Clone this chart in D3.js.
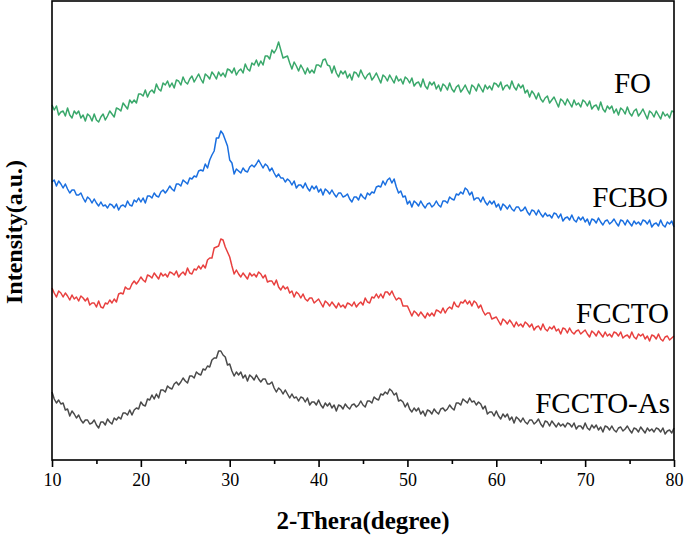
<!DOCTYPE html>
<html>
<head>
<meta charset="utf-8">
<script src="https://cdn.jsdelivr.net/npm/d3@7"></script>
<style>
  body { margin: 0; background: #fff; }
  svg { display: block; }
  .tick text { font-family: "Liberation Serif", "Times New Roman", serif; font-size: 18px; fill: #000; }
  .label { font-family: "Liberation Serif", "Times New Roman", serif; fill: #000; }
  .series { fill: none; stroke-width: 1.5; stroke-linejoin: round; }
</style>
</head>
<body>
<svg id="chart" width="685" height="537"></svg>
<script>
/* XRD patterns, stacked with offsets */

// 2-theta from 10 to 80 in steps of 0.25 degree (281 points)
const angleStart = 10, angleStep = 0.25;

const names = ["FO", "FCBO", "FCCTO", "FCCTO-As"];
const colors = ["#3aa86b", "#1a6fe0", "#e8403f", "#4a4a4a"];

const foValues = [
  354,349,353,344,347,348,343,351,344,341,348,345,348,341,344,338,345,343,338,345,
  339,337,342,345,339,343,348,345,342,351,350,348,356,353,350,359,356,359,356,365,
  365,363,369,362,367,369,366,375,370,368,376,374,378,372,376,371,379,378,374,382,
  377,375,380,383,377,381,385,380,376,385,383,380,387,384,380,387,383,386,382,390,
  389,386,391,384,388,390,386,395,390,388,396,394,399,393,398,394,403,403,400,409,
  406,410,417,409,401,402,403,396,390,397,393,388,394,390,385,391,386,389,386,394,
  394,392,399,400,394,393,386,393,386,382,388,385,388,381,385,379,387,386,382,389,
  384,380,384,386,379,382,386,381,376,384,382,378,384,380,376,383,378,380,375,382,
  380,376,381,373,376,377,372,380,373,370,377,374,377,370,374,368,375,373,369,376,
  370,367,372,374,367,370,374,369,365,374,372,368,375,371,367,374,370,373,369,376,
  375,372,377,369,373,374,370,378,372,369,375,371,374,366,369,362,368,365,360,366,
  360,357,361,363,356,359,362,357,352,360,358,354,360,356,352,359,354,356,352,359,
  357,353,358,350,353,354,349,357,350,347,353,350,353,346,350,344,351,349,345,352,
  346,343,348,350,343,346,350,345,340,348,346,342,348,344,340,347,343,345,341,348,
  347
];

const fcboValues = [
  277,279,273,278,275,271,275,270,266,269,269,264,264,266,261,257,262,260,256,260,
  256,253,257,253,254,251,255,254,251,255,249,253,254,252,258,254,253,259,257,261,
  257,261,256,263,263,261,266,263,262,267,269,266,269,273,270,268,275,275,273,279,
  277,275,281,280,283,282,288,289,288,295,291,299,304,308,321,321,328,325,319,313,
  299,296,285,290,288,286,291,288,287,292,294,292,295,299,295,291,295,293,288,291,
  286,282,285,281,281,277,280,278,274,278,271,274,274,271,276,271,268,273,270,273,
  267,270,264,270,268,265,269,265,262,266,266,262,263,265,260,257,262,262,259,265,
  262,260,266,264,267,266,272,273,272,278,274,279,281,276,280,272,266,268,262,263,
  255,258,252,258,256,253,258,254,251,255,256,252,254,258,254,252,258,258,256,262,
  260,259,265,264,267,265,271,269,264,267,259,261,261,257,262,257,254,258,255,258,
  252,255,249,255,253,250,254,250,248,252,252,248,249,252,247,244,249,248,244,249,
  245,242,246,243,244,241,246,245,241,245,238,241,242,239,244,239,237,242,239,242,
  237,240,234,240,239,236,241,237,234,238,239,235,237,240,236,233,239,238,234,239,
  236,233,238,235,237,234,239,238,235,239,232,235,236,233,239,234,232,237,235,238,
  232
];

const fcctoValues = [
  171,166,162,168,166,162,166,163,159,164,160,162,158,163,161,158,161,154,156,156,
  152,158,152,151,156,155,159,156,160,157,165,166,165,172,170,170,175,178,175,178,
  182,179,177,184,183,181,186,183,180,186,183,185,182,187,186,184,188,182,185,187,
  184,191,186,185,190,189,193,190,194,191,199,201,201,211,212,213,220,219,212,207,
  202,193,185,189,185,182,186,183,180,186,183,185,182,187,185,181,184,177,178,178,
  174,179,172,169,173,170,172,166,168,162,167,165,161,165,160,158,161,161,156,158,
  160,156,152,158,156,153,157,154,151,156,152,154,151,156,155,153,157,152,155,157,
  154,161,157,156,162,161,165,161,165,161,167,167,164,168,163,159,161,160,153,153,
  153,148,143,148,146,143,147,144,141,146,143,146,143,149,148,146,151,146,150,152,
  150,157,153,152,157,156,159,155,158,153,158,156,151,154,148,144,146,146,140,141,
  142,138,134,140,138,135,139,136,132,137,133,135,132,137,135,132,135,129,132,133,
  129,135,130,128,132,130,133,128,130,125,131,130,126,131,127,125,128,129,125,127,
  129,125,122,128,126,123,128,125,122,127,123,125,122,127,126,123,127,121,123,124,
  121,127,122,120,125,123,125,120,123,118,124,123,120,125,120,118,122,123,119,121,
  123
];

const fcctoAsValues = [
  67,60,56,59,55,56,49,50,43,48,45,41,44,39,36,39,39,35,36,39,
  34,31,37,37,34,40,37,35,41,39,42,40,46,46,44,49,44,49,51,50,
  57,54,53,60,59,64,60,65,61,69,69,67,73,71,70,75,77,74,77,81,
  78,76,83,83,81,87,85,84,90,89,93,92,99,101,101,108,108,104,102,94,
  95,88,83,87,84,87,81,84,78,84,82,79,84,80,77,80,80,75,75,77,
  71,67,71,69,65,69,65,61,65,61,62,58,62,61,57,61,54,57,57,54,
  59,54,51,56,53,56,51,54,48,54,53,50,55,52,50,54,55,52,54,58,
  54,52,58,58,56,62,60,59,65,64,67,65,70,68,64,66,58,59,57,52,
  56,50,47,51,48,51,45,48,43,49,48,45,50,47,45,50,51,48,50,54,
  51,49,56,56,54,60,58,56,61,57,58,54,57,55,50,53,45,47,47,43,
  48,43,40,45,42,45,39,42,36,42,40,37,41,37,35,39,39,35,37,40,
  35,32,38,37,33,38,35,32,36,33,35,32,36,35,32,36,30,33,33,30,
  36,31,29,34,31,34,29,32,27,33,32,29,33,29,27,31,32,28,30,33,
  29,26,31,30,27,32,29,26,31,28,30,27,31,30,27,31,25,28,29,26,
  31
];

const seriesValues = [foValues, fcboValues, fcctoValues, fcctoAsValues];

const majorTicks = [10, 20, 30, 40, 50, 60, 70, 80];
const minorTicks = [15, 25, 35, 45, 55, 65, 75];

const svg = d3.select("#chart");
const box = {left: 52, right: 674, top: 1, bottom: 460};

const x = d3.scaleLinear().domain([10, 80]).range([box.left, box.right]);
const y = d3.scaleLinear().domain([0, 459]).range([459, 0]);

const line = d3.line()
    .x((d, i) => x(angleStart + i * angleStep))
    .y(d => y(d));

svg.selectAll("path.series")
    .data(seriesValues).enter()
    .append("path").attr("class", "series")
    .attr("stroke", (d, i) => colors[i])
    .attr("d", line);

// frame
svg.append("rect")
    .attr("x", box.left).attr("y", box.top)
    .attr("width", box.right - box.left).attr("height", box.bottom - box.top)
    .attr("fill", "none").attr("stroke", "#000").attr("stroke-width", 1.6);

// bottom axis: major ticks with labels, minor without
const gx = svg.append("g").attr("transform", `translate(0,${box.bottom})`)
    .call(d3.axisBottom(x).tickValues(majorTicks).tickSize(7).tickPadding(6).tickFormat(d3.format("d")));
gx.select(".domain").remove();
gx.selectAll(".tick line").attr("stroke-width", 1.6);

const gm = svg.append("g").attr("transform", `translate(0,${box.bottom})`)
    .call(d3.axisBottom(x).tickValues(minorTicks).tickSize(4).tickFormat(""));
gm.select(".domain").remove();
gm.selectAll(".tick line").attr("stroke-width", 1.6);

// axis titles
svg.append("text").attr("class", "label")
    .attr("x", (box.left + box.right) / 2).attr("y", 529)
    .attr("text-anchor", "middle")
    .style("font-size", "25px").style("font-weight", "bold")
    .text("2-Thera(degree)");

svg.append("text").attr("class", "label")
    .attr("transform", "translate(22,232) rotate(-90)")
    .attr("text-anchor", "middle")
    .style("font-size", "24px").style("font-weight", "bold")
    .text("Intensity(a.u.)");

// series names at the right
const labelRight = [651, 668, 669, 670];
const labelBase = [93, 207, 323, 413];
svg.selectAll("text.name")
    .data(names).enter()
    .append("text").attr("class", "label name")
    .attr("x", (d, i) => labelRight[i])
    .attr("y", (d, i) => labelBase[i])
    .attr("text-anchor", "end")
    .style("font-size", "29px")
    .text(d => d);
</script>
</body>
</html>
